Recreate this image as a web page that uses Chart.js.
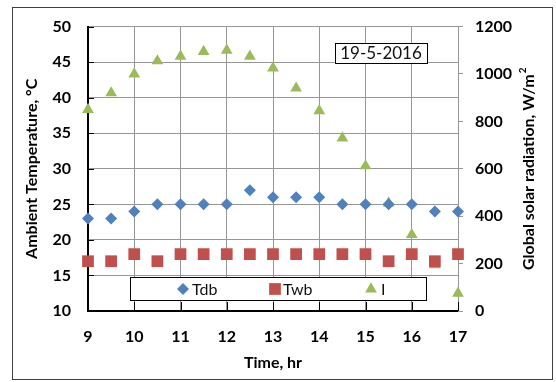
<!DOCTYPE html>
<html>
<head>
<meta charset="utf-8">
<script src="https://cdn.jsdelivr.net/npm/chart.js@4.4.1/dist/chart.umd.min.js"></script>
<style>
  html, body { margin: 0; padding: 0; background: #fff; }
  #wrap { width: 556px; height: 382px; position: relative; }
</style>
</head>
<body>
<div id="wrap"><canvas id="solarChart"></canvas></div>
<script>
// time of day (hours)
const hours = [9, 9.5, 10, 10.5, 11, 11.5, 12, 12.5, 13, 13.5, 14, 14.5, 15, 15.5, 16, 16.5, 17];
// dry bulb / wet bulb temperature, degC
const tdb = [23, 23, 24, 25, 25, 25, 25, 27, 26, 26, 26, 25, 25, 25, 25, 24, 24];
const twb = [17, 17, 18, 17, 18, 18, 18, 18, 18, 18, 18, 18, 18, 17, 18, 17, 18];
// global solar radiation, W/m2
const radiation = [850, 920, 1000, 1055, 1075, 1095, 1100, 1075, 1025, 940, 845, 730, 612, 455, 322, 195, 75];

const seriesNames = ['Tdb', 'Twb', 'I'];
const hourTicks = [9, 10, 11, 12, 13, 14, 15, 16, 17];
const tempTicks = [10, 15, 20, 25, 30, 35, 40, 45, 50];
const radTicks = [0, 200, 400, 600, 800, 1000, 1200];
const dateLabel = '19-5-2016';
const radTitle = 'Global solar radiation, W/m';

const BLUE = '#4F81BD', RED = '#C0504D', GREEN = '#9BBB59';
const GRID = '#969696';
const FONT = 'Lato, "Open Sans", sans-serif';

const ctx = document.getElementById('solarChart');

const toPoints = vals => hours.map((h, i) => ({ x: h, y: vals[i] }));

const decor = {
    id: 'decor',
    beforeDraw(chart) {
        const c = chart.ctx;
        c.save();
        c.fillStyle = '#fff';
        c.fillRect(0, 0, chart.width, chart.height);
        c.restore();
    },
    afterDraw(chart) {
        const c = chart.ctx;
        const a = chart.chartArea;
        const sx = chart.scales.x, sy = chart.scales.y;
        c.save();

        // inside tick marks, left + bottom axis
        c.strokeStyle = '#000';
        c.lineWidth = 1;
        c.beginPath();
        tempTicks.forEach(v => {
            const y = Math.round(sy.getPixelForValue(v)) + 0.5;
            c.moveTo(a.left, y);
            c.lineTo(a.left + 6, y);
        });
        hourTicks.forEach(h => {
            const x = Math.round(sx.getPixelForValue(h)) + 0.5;
            c.moveTo(x, a.bottom);
            c.lineTo(x, a.bottom - 9);
        });
        c.stroke();

        // right axis title, reads bottom-to-top with superscript 2
        c.save();
        c.translate(529, (a.top + a.bottom) / 2);
        c.rotate(-Math.PI / 2);
        c.fillStyle = '#000';
        c.textBaseline = 'middle';
        c.textAlign = 'left';
        c.font = 'bold 16px ' + FONT;
        const w1 = c.measureText(radTitle).width;
        c.font = 'bold 10px ' + FONT;
        const w2 = c.measureText('2').width;
        const x0 = -(w1 + w2 + 1) / 2;
        c.font = 'bold 16px ' + FONT;
        c.fillText(radTitle, x0, 0);
        c.font = 'bold 10px ' + FONT;
        c.fillText('2', x0 + w1 + 1, -6);
        c.restore();

        // legend box (sits over the plot, like the original)
        c.fillStyle = '#fff';
        c.fillRect(130, 277, 296, 24);
        c.strokeStyle = '#000';
        c.strokeRect(130.5, 277.5, 296, 23);
        const items = [
            { x: 183, tx: 192, ds: chart.data.datasets[0] },
            { x: 275, tx: 283, ds: chart.data.datasets[1] },
            { x: 371, tx: 381, ds: chart.data.datasets[2] }
        ];
        c.font = '16px ' + FONT;
        c.textBaseline = 'middle';
        c.textAlign = 'left';
        items.forEach(it => {
            c.fillStyle = it.ds.backgroundColor;
            c.strokeStyle = it.ds.backgroundColor;
            Chart.helpers.drawPoint(c, {
                pointStyle: it.ds.pointStyle,
                radius: it.ds.pointRadius,
                rotation: 0,
                borderWidth: 0
            }, it.x, 289);
            c.fillStyle = '#111';
            c.fillText(it.ds.label, it.tx, 290);
        });

        // date box
        c.fillStyle = '#fff';
        c.fillRect(335, 43, 92, 21);
        c.strokeStyle = '#000';
        c.strokeRect(335.5, 43.5, 92, 20);
        c.fillStyle = '#111';
        c.font = '17px ' + FONT;
        c.textAlign = 'center';
        c.fillText(dateLabel, 381, 54);

        // outer frame
        c.strokeStyle = '#404040';
        c.strokeRect(12.5, 7.5, 540, 372);
        c.restore();
    }
};

const tickFont = { family: FONT, size: 16, weight: 'bold' };
const titleFont = { family: FONT, size: 16, weight: 'bold' };

new Chart(ctx, {
    type: 'scatter',
    data: {
        datasets: [
            { label: seriesNames[0], data: toPoints(tdb), yAxisID: 'y',
              pointStyle: 'rectRot', pointRadius: 6, backgroundColor: BLUE, borderColor: BLUE, borderWidth: 0, clip: false },
            { label: seriesNames[1], data: toPoints(twb), yAxisID: 'y',
              pointStyle: 'rect', pointRadius: 8.3, backgroundColor: RED, borderColor: RED, borderWidth: 0, clip: false },
            { label: seriesNames[2], data: toPoints(radiation), yAxisID: 'y2',
              pointStyle: 'triangle', pointRadius: 6.8, backgroundColor: GREEN, borderColor: GREEN, borderWidth: 0, clip: false }
        ]
    },
    options: {
        responsive: true,
        maintainAspectRatio: false,
        animation: false,
        layout: { padding: { top: 23, left: 0, right: 0, bottom: 0 } },
        plugins: {
            legend: { display: false },
            tooltip: { enabled: false }
        },
        scales: {
            x: {
                type: 'linear', min: 9, max: 17,
                afterBuildTicks: s => { s.ticks = hourTicks.map(v => ({ value: v })); },
                ticks: { font: tickFont, color: '#000', padding: 16, callback: v => String(v) },
                grid: { color: GRID, drawTicks: false },
                border: { color: '#000', width: 2 },
                title: { display: true, text: 'Time, hr', font: titleFont, color: '#000', padding: { top: 0, bottom: 10 } },
                afterFit: s => { s.height = 71; }
            },
            y: {
                position: 'left', min: 10, max: 50,
                afterBuildTicks: s => { s.ticks = tempTicks.map(v => ({ value: v })); },
                ticks: { font: tickFont, color: '#000', padding: 17, callback: v => String(v) },
                grid: { color: GRID, drawTicks: false },
                border: { color: '#000', width: 2 },
                title: { display: true, text: 'Ambient Temperature, °C', font: titleFont, color: '#000', padding: { top: 22, bottom: 0 } },
                afterFit: s => { s.width = 88; }
            },
            y2: {
                position: 'right', min: 0, max: 1200,
                afterBuildTicks: s => { s.ticks = radTicks.map(v => ({ value: v })); },
                ticks: { font: tickFont, color: '#000', padding: 12, callback: v => String(v) },
                grid: { drawOnChartArea: false, color: GRID, tickLength: 5 },
                border: { color: GRID, width: 1 },
                title: { display: false },
                afterFit: s => { s.width = 98; }
            }
        }
    },
    plugins: [decor]
});
</script>
</body>
</html>
